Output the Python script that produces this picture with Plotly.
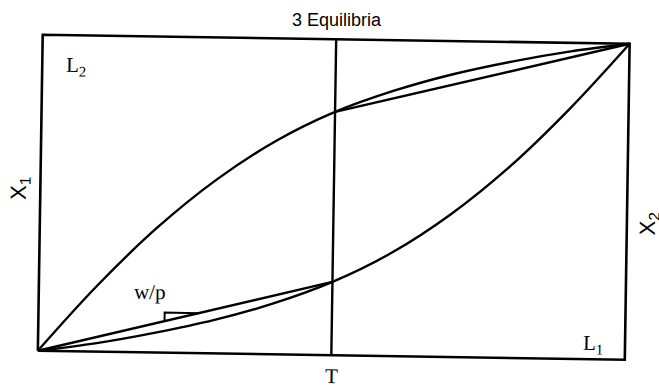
import numpy as np
import plotly.graph_objects as go

# Box-relative coordinates: u runs left->right, v runs bottom->top, both 0..1.
# Upper (concave) equilibrium locus
upper_u = [0.0, 0.1, 0.2, 0.3, 0.4, 0.5, 0.6, 0.7, 0.8, 0.9, 1.0]
upper_v = [0.0, 0.21, 0.395, 0.55, 0.675, 0.77, 0.84, 0.895, 0.938, 0.973, 1.0]

# Lower (convex) equilibrium locus
lower_u = [0.0, 0.1, 0.2, 0.3, 0.4, 0.5, 0.6, 0.7, 0.8, 0.9, 1.0]
lower_v = [0.0, 0.027, 0.063, 0.106, 0.161, 0.232, 0.327, 0.452, 0.607, 0.792, 1.0]

# Position of the vertical T line
t_u = 0.5

# w/p slope marker: foot on the lower chord and its rise
wp_u = 0.215
wp_rise = 0.027

# Text labels: (text, u, v, font family, size, angle)
labels = [
    ("L<sub>2</sub>", 0.057, 0.903, "Liberation Serif", 21, 0),
    ("L<sub>1</sub>", 0.946, 0.049, "Liberation Serif", 21, 0),
    ("T", 0.5, -0.066, "Liberation Serif", 21, 0),
    ("w/p", 0.19, 0.19, "Liberation Serif", 21, 0),
    ("X<sub>1</sub>", -0.035, 0.514, "Liberation Sans", 22, -90),
    ("X<sub>2</sub>", 1.038, 0.43, "Liberation Sans", 22, -90),
]

# Drawing frame (pixels, y up) and the slight clockwise tilt of the diagram
FIG_W, FIG_H = 659, 388
BOX_W, BOX_H = 587, 316
CX, CY = 333.75, 388 - 197.25
TILT_DEG = 0.88
th = np.deg2rad(-TILT_DEG)


def place(u, v):
    u = np.asarray(u, dtype=float)
    v = np.asarray(v, dtype=float)
    dx = (u - 0.5) * BOX_W
    dy = (v - 0.5) * BOX_H
    x = CX + dx * np.cos(th) - dy * np.sin(th)
    y = CY + dx * np.sin(th) + dy * np.cos(th)
    return x, y


fig = go.Figure()


def add_path(u, v, shape="linear", width=2.4):
    x, y = place(u, v)
    fig.add_trace(go.Scatter(x=x, y=y, mode="lines",
                             line=dict(color="black", width=width, shape=shape,
                                       smoothing=1.0),
                             hoverinfo="skip", showlegend=False))


# frame
add_path([0, 1, 1, 0, 0], [0, 0, 1, 1, 0], width=2.6)
# vertical T line
add_path([t_u, t_u], [0, 1])
# the two loci
add_path(upper_u, upper_v, shape="spline")
add_path(lower_u, lower_v, shape="spline")

# chords from the corners to the T intersections
v_hi = float(np.interp(t_u, upper_u, upper_v))
v_lo = float(np.interp(t_u, lower_u, lower_v))
add_path([t_u, 1.0], [v_hi, 1.0])
add_path([0.0, t_u], [0.0, v_lo])

# slope marker on the lower chord
chord_slope = v_lo / t_u
foot_v = chord_slope * wp_u
top_v = foot_v + wp_rise
end_u = top_v / chord_slope
add_path([wp_u, wp_u, end_u], [foot_v, top_v, top_v], width=2)

annotations = []
for text, u, v, fam, size, ang in labels:
    x, y = place(u, v)
    annotations.append(dict(x=float(x), y=float(y), xref="x", yref="y",
                            text=text, showarrow=False,
                            xanchor="center", yanchor="middle",
                            textangle=ang + TILT_DEG,
                            font=dict(family=fam, size=size, color="black")))

annotations.append(dict(x=337 / FIG_W, y=1 - 20 / FIG_H, xref="paper", yref="paper",
                        text="3 Equilibria", showarrow=False,
                        xanchor="center", yanchor="middle",
                        font=dict(family="Liberation Sans, Arial", size=18,
                                  color="black")))

fig.update_layout(
    width=FIG_W, height=FIG_H,
    margin=dict(l=0, r=0, t=0, b=0),
    paper_bgcolor="white", plot_bgcolor="white",
    xaxis=dict(range=[0, FIG_W], visible=False, fixedrange=True),
    yaxis=dict(range=[0, FIG_H], visible=False, fixedrange=True),
    annotations=annotations,
    showlegend=False,
)

fig.write_html("out.html")
